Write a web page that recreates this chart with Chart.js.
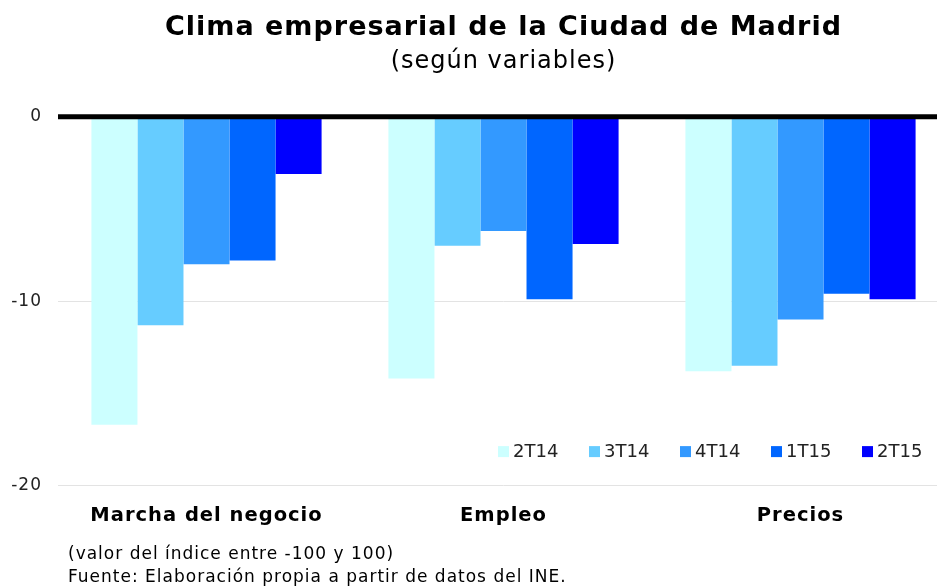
<!DOCTYPE html>
<html>
<head>
<meta charset="utf-8">
<script src="https://cdn.jsdelivr.net/npm/chart.js@4"></script>
<style>
html,body{margin:0;padding:0;background:#fff;overflow:hidden;}
#wrap{width:937px;height:588px;position:relative;overflow:hidden;}
canvas{display:block;}
</style>
</head>
<body>
<div id="wrap"><canvas id="c" width="949" height="588"></canvas></div>
<script>
const categories = ['Marcha del negocio', 'Empleo', 'Precios'];
const seriesNames = ['2T14', '3T14', '4T14', '1T15', '2T15'];
const s2T14 = [-16.7, -14.2, -13.8];
const s3T14 = [-11.3, -7.0, -13.5];
const s4T14 = [-8.0, -6.2, -11.0];
const s1T15 = [-7.8, -9.9, -9.6];
const s2T15 = [-3.1, -6.9, -9.9];
const yTicks = [0, -10, -20];
const colors = ['#CCFFFF', '#66CCFF', '#3399FF', '#0066FF', '#0000FF'];
const titleText = 'Clima empresarial de la Ciudad de Madrid';
const subtitleText = '(según variables)';
const notes = ['(valor del índice entre -100 y 100)', 'Fuente: Elaboración propia a partir de datos del INE.'];

const FONT = '"DejaVu Sans", Verdana, sans-serif';
const allSeries = [s2T14, s3T14, s4T14, s1T15, s2T15];

const spacing = {
  id: 'spacing',
  beforeUpdate(chart) { chart.ctx.letterSpacing = '1px'; },
  beforeLayout(chart) { chart.ctx.letterSpacing = '1px'; },
  beforeDraw(chart) { chart.ctx.letterSpacing = '1px'; }
};

const zeroLine = {
  id: 'zeroLine',
  afterDatasetsDraw(chart) {
    const y = chart.scales.y.getPixelForValue(0);
    const ctx = chart.ctx;
    ctx.save();
    ctx.strokeStyle = '#000';
    ctx.lineWidth = 5;
    ctx.beginPath();
    ctx.moveTo(chart.chartArea.left, y);
    ctx.lineTo(chart.width, y);
    ctx.stroke();
    ctx.restore();
  }
};

const customLegend = {
  id: 'customLegend',
  afterDraw(chart) {
    const ctx = chart.ctx;
    const ca = chart.chartArea;
    const yc = ca.bottom - 34;
    let x = ca.left + 440;
    ctx.save();
    ctx.letterSpacing = '0px';
    ctx.font = '18px ' + FONT;
    ctx.textBaseline = 'middle';
    ctx.textAlign = 'left';
    chart.data.datasets.forEach(ds => {
      ctx.fillStyle = ds.backgroundColor;
      ctx.fillRect(x, yc - 5.5, 11, 11);
      ctx.fillStyle = '#222';
      ctx.fillText(ds.label, x + 15, yc + 1);
      x += 91;
    });
    ctx.restore();
  }
};

const footNotes = {
  id: 'footNotes',
  afterDraw(chart) {
    const ctx = chart.ctx;
    ctx.save();
    ctx.letterSpacing = '1px';
    ctx.font = '17px ' + FONT;
    ctx.fillStyle = '#000';
    ctx.textBaseline = 'middle';
    ctx.textAlign = 'left';
    ctx.fillText(notes[0], 68, 555);
    ctx.fillText(notes[1], 68, 578);
    ctx.restore();
  }
};

new Chart(document.getElementById('c'), {
  type: 'bar',
  data: {
    labels: categories,
    datasets: seriesNames.map((n, i) => ({
      label: n,
      data: allSeries[i],
      backgroundColor: colors[i],
      borderWidth: 0,
      barPercentage: 1,
      categoryPercentage: 0.775
    }))
  },
  options: {
    responsive: false,
    animation: false,
    layout: { padding: { left: 10, right: 0, top: 0, bottom: 49 } },
    plugins: {
      legend: { display: false },
      tooltip: { enabled: false },
      title: {
        display: true,
        text: titleText,
        fullSize: false,
        color: '#000',
        font: { family: FONT, size: 27, weight: 'bold' },
        padding: { top: 12, bottom: 2.5 }
      },
      subtitle: {
        display: true,
        text: subtitleText,
        fullSize: false,
        color: '#000',
        font: { family: FONT, size: 24 },
        padding: { top: 0, bottom: 41 }
      }
    },
    scales: {
      x: {
        grid: { display: false },
        border: { display: false },
        afterFit(scale) { scale.paddingLeft = 0; scale.paddingRight = 0; },
        ticks: {
          color: '#000',
          padding: 11,
          maxRotation: 0,
          font: { family: FONT, size: 19.5, weight: 'bold' }
        }
      },
      y: {
        min: -20,
        max: 0,
        afterBuildTicks(scale) { scale.ticks = yTicks.map(v => ({ value: v })); },
        afterFit(scale) { scale.width = 48; },
        grid: { color: '#e3e3e3', lineWidth: 1, drawTicks: false },
        border: { display: false },
        ticks: {
          color: '#222',
          padding: 16,
          font: { family: FONT, size: 17 }
        }
      }
    }
  },
  plugins: [spacing, zeroLine, customLegend, footNotes]
});
</script>
</body>
</html>
